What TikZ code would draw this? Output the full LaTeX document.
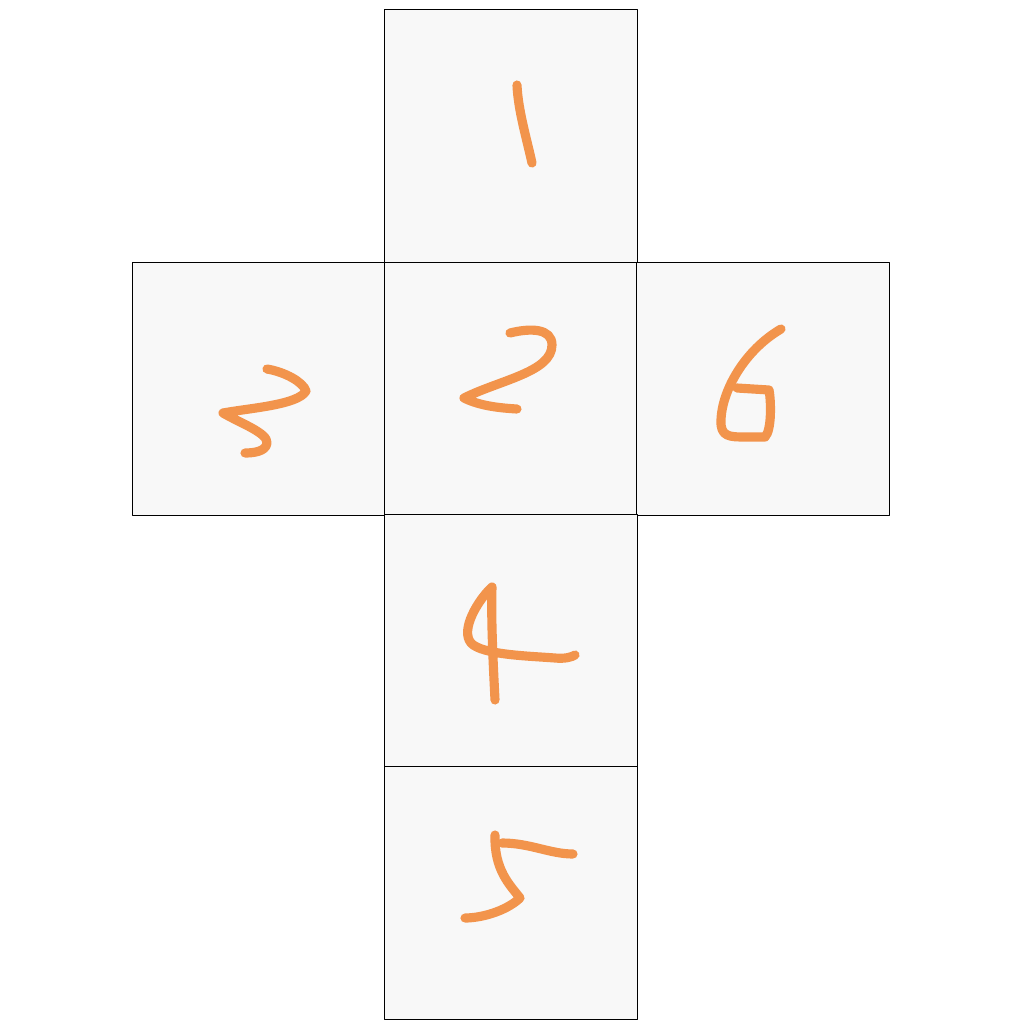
\documentclass[tikz,border=0pt]{standalone}
\usepackage{tikz}

\definecolor{penorange}{RGB}{242,148,76}
\definecolor{facegray}{RGB}{248,248,248}

\begin{document}
\begin{tikzpicture}[
                x={(0.01cm,0cm)},
                y={(0cm,-0.01cm)},
                line cap=round,
                line join=round,
                face/.style={draw=black, line width=0.3pt, fill=facegray,
                    minimum size=2.52cm, inner sep=0pt},
                pen/.style={penorange, line width=2.6pt}
            ]

            \useasboundingbox (0,0) rectangle (1024,1024);

            \foreach \n/\fx/\fy in {1/511/136, 3/259/389, 2/511/389,
                6/763/389, 4/511/641, 5/511/893} {
                \node[face] (face\n) at (\fx,\fy) {};
            }

            % 1
            \draw[pen] (517,85) .. controls (518,110) and (527,140) .. (532,163);

            % 3
            \draw[pen] (267,369) .. controls (285,372) and (303,382) .. (306,391)
            .. controls (298,405) and (250,408) .. (223,413)
            .. controls (240,423) and (268,433) .. (267,443)
            .. controls (266,452) and (252,453) .. (245,453);

            % 2
            \draw[pen] (510,333) .. controls (530,328) and (552,328) .. (552,345)
            .. controls (552,372) and (500,380) .. (464,398)
            .. controls (480,406) and (500,408) .. (517,409);

            % 6
            \draw[pen] (781,329) .. controls (745,350) and (722,390) .. (721,420)
            .. controls (720,437) and (730,437) .. (745,437) -- (765,437)
            .. controls (772,430) and (771,400) .. (769,390) -- (737,388);

            % 4
            \draw[pen] (495,700) .. controls (493,660) and (491,620) .. (492,587)
            .. controls (478,600) and (460,630) .. (471,643)
            .. controls (482,655) and (530,656) .. (555,658)
            .. controls (565,659) and (572,657) .. (575,655);

            % 5
            \draw[pen] (495,835) .. controls (494,870) and (510,885) .. (520,898)
            .. controls (505,912) and (480,918) .. (465,918);
            \draw[pen] (502,843) .. controls (530,843) and (550,854) .. (573,854);

        \end{tikzpicture}
\end{document}
